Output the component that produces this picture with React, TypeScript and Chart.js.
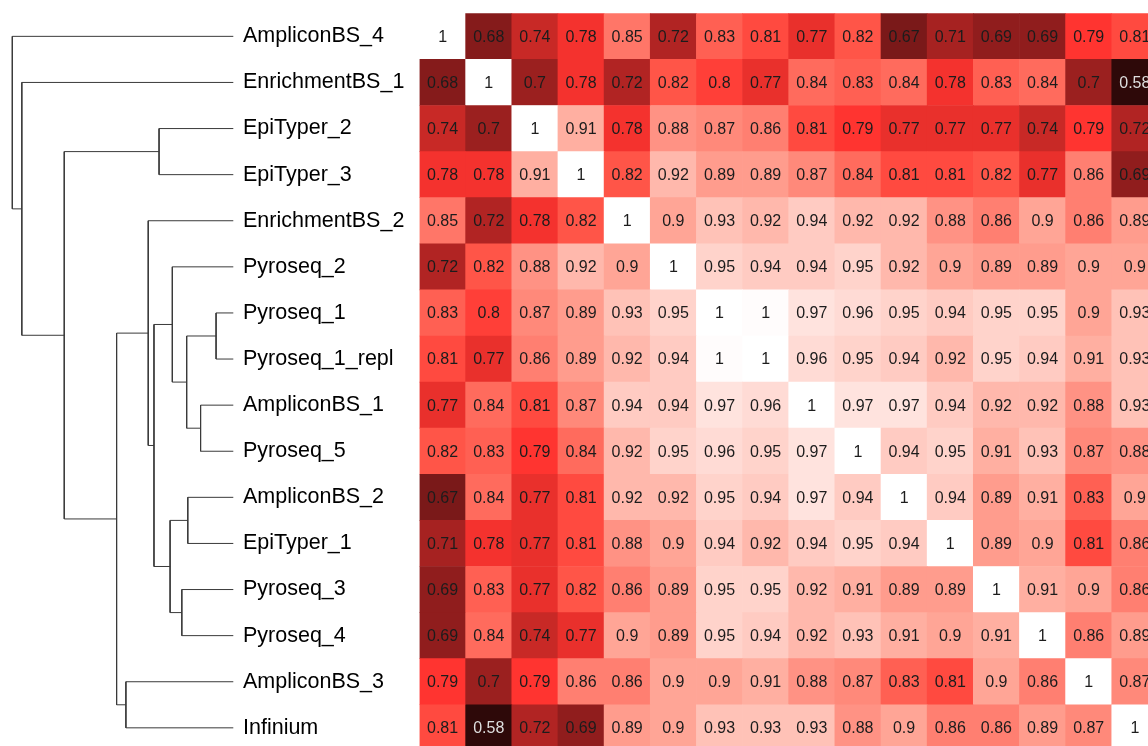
import React, { useEffect, useRef } from "react";
import { Chart, registerables } from "chart.js";

Chart.register(...registerables);

// Row / column order (same for both axes)
const rowLabels = [
  "AmpliconBS_4",
  "EnrichmentBS_1",
  "EpiTyper_2",
  "EpiTyper_3",
  "EnrichmentBS_2",
  "Pyroseq_2",
  "Pyroseq_1",
  "Pyroseq_1_repl",
  "AmpliconBS_1",
  "Pyroseq_5",
  "AmpliconBS_2",
  "EpiTyper_1",
  "Pyroseq_3",
  "Pyroseq_4",
  "AmpliconBS_3",
  "Infinium",
];

// Correlation matrix, one array per row
const rowAmpliconBS_4 = [1, 0.68, 0.74, 0.78, 0.85, 0.72, 0.83, 0.81, 0.77, 0.82, 0.67, 0.71, 0.69, 0.69, 0.79, 0.81];
const rowEnrichmentBS_1 = [0.68, 1, 0.7, 0.78, 0.72, 0.82, 0.8, 0.77, 0.84, 0.83, 0.84, 0.78, 0.83, 0.84, 0.7, 0.58];
const rowEpiTyper_2 = [0.74, 0.7, 1, 0.91, 0.78, 0.88, 0.87, 0.86, 0.81, 0.79, 0.77, 0.77, 0.77, 0.74, 0.79, 0.72];
const rowEpiTyper_3 = [0.78, 0.78, 0.91, 1, 0.82, 0.92, 0.89, 0.89, 0.87, 0.84, 0.81, 0.81, 0.82, 0.77, 0.86, 0.69];
const rowEnrichmentBS_2 = [0.85, 0.72, 0.78, 0.82, 1, 0.9, 0.93, 0.92, 0.94, 0.92, 0.92, 0.88, 0.86, 0.9, 0.86, 0.89];
const rowPyroseq_2 = [0.72, 0.82, 0.88, 0.92, 0.9, 1, 0.95, 0.94, 0.94, 0.95, 0.92, 0.9, 0.89, 0.89, 0.9, 0.9];
const rowPyroseq_1 = [0.83, 0.8, 0.87, 0.89, 0.93, 0.95, 1, 0.997, 0.97, 0.96, 0.95, 0.94, 0.95, 0.95, 0.9, 0.93];
const rowPyroseq_1_repl = [0.81, 0.77, 0.86, 0.89, 0.92, 0.94, 0.997, 1, 0.96, 0.95, 0.94, 0.92, 0.95, 0.94, 0.91, 0.93];
const rowAmpliconBS_1 = [0.77, 0.84, 0.81, 0.87, 0.94, 0.94, 0.97, 0.96, 1, 0.97, 0.97, 0.94, 0.92, 0.92, 0.88, 0.93];
const rowPyroseq_5 = [0.82, 0.83, 0.79, 0.84, 0.92, 0.95, 0.96, 0.95, 0.97, 1, 0.94, 0.95, 0.91, 0.93, 0.87, 0.88];
const rowAmpliconBS_2 = [0.67, 0.84, 0.77, 0.81, 0.92, 0.92, 0.95, 0.94, 0.97, 0.94, 1, 0.94, 0.89, 0.91, 0.83, 0.9];
const rowEpiTyper_1 = [0.71, 0.78, 0.77, 0.81, 0.88, 0.9, 0.94, 0.92, 0.94, 0.95, 0.94, 1, 0.89, 0.9, 0.81, 0.86];
const rowPyroseq_3 = [0.69, 0.83, 0.77, 0.82, 0.86, 0.89, 0.95, 0.95, 0.92, 0.91, 0.89, 0.89, 1, 0.91, 0.9, 0.86];
const rowPyroseq_4 = [0.69, 0.84, 0.74, 0.77, 0.9, 0.89, 0.95, 0.94, 0.92, 0.93, 0.91, 0.9, 0.91, 1, 0.86, 0.89];
const rowAmpliconBS_3 = [0.79, 0.7, 0.79, 0.86, 0.86, 0.9, 0.9, 0.91, 0.88, 0.87, 0.83, 0.81, 0.9, 0.86, 1, 0.87];
const rowInfinium = [0.81, 0.58, 0.72, 0.69, 0.89, 0.9, 0.93, 0.93, 0.93, 0.88, 0.9, 0.86, 0.86, 0.89, 0.87, 1];

const corrRows = [
  rowAmpliconBS_4, rowEnrichmentBS_1, rowEpiTyper_2, rowEpiTyper_3,
  rowEnrichmentBS_2, rowPyroseq_2, rowPyroseq_1, rowPyroseq_1_repl,
  rowAmpliconBS_1, rowPyroseq_5, rowAmpliconBS_2, rowEpiTyper_1,
  rowPyroseq_3, rowPyroseq_4, rowAmpliconBS_3, rowInfinium,
];

// Dendrogram, hclust style: negative = leaf (1-based row), positive = earlier merge (1-based)
const mergeLeft = [-7, -9, -11, 1, -13, -6, 3, -3, 6, -5, -15, 10, 8, -2, -1];
const mergeRight = [-8, -10, -12, 2, -14, 4, 5, -4, 7, 9, -16, 11, 12, 13, 14];
const mergeHeight = [0.078, 0.148, 0.206, 0.211, 0.233, 0.276, 0.286, 0.336, 0.359, 0.385, 0.486, 0.528, 0.765, 0.957, 1.0];

// Colour scale stops: value, r, g, b
const colorStops = [
  [0.58, 46, 9, 9],
  [0.67, 122, 25, 25],
  [0.79, 255, 52, 48],
  [0.82, 255, 85, 72],
  [0.85, 255, 118, 104],
  [0.9, 255, 165, 150],
  [0.94, 255, 203, 194],
  [0.97, 255, 227, 222],
  [1.0, 255, 255, 255],
];

function colorFor(v: number): string {
  if (v <= colorStops[0][0]) {
    const s = colorStops[0];
    return `rgb(${s[1]},${s[2]},${s[3]})`;
  }
  for (let k = 1; k < colorStops.length; k++) {
    const a = colorStops[k - 1];
    const b = colorStops[k];
    if (v <= b[0]) {
      const t = (v - a[0]) / (b[0] - a[0]);
      const c = [1, 2, 3].map((n) => Math.round(a[n] + (b[n] - a[n]) * t));
      return `rgb(${c[0]},${c[1]},${c[2]})`;
    }
  }
  return "rgb(255,255,255)";
}

function fmt(v: number): string {
  return String(Math.round(v * 100) / 100);
}

function buildCells() {
  const cells: any[] = [];
  corrRows.forEach((row, i) => {
    row.forEach((v, j) => {
      cells.push({ x: [j, j + 1], y: i, v });
    });
  });
  return cells;
}

function buildDendro() {
  const nodeY: number[] = [];
  const nodeH: number[] = [];
  const pos = (id: number) =>
    id < 0 ? { y: -id - 1, h: 0 } : { y: nodeY[id - 1], h: nodeH[id - 1] };
  const segments: any[] = [];
  for (let m = 0; m < mergeLeft.length; m++) {
    const a = pos(mergeLeft[m]);
    const b = pos(mergeRight[m]);
    const h = mergeHeight[m];
    nodeY.push((a.y + b.y) / 2);
    nodeH.push(h);
    segments.push([
      { x: a.h, y: a.y },
      { x: h, y: a.y },
      { x: h, y: b.y },
      { x: b.h, y: b.y },
    ]);
  }
  return segments;
}

const FONT = '"Liberation Sans", Arial, Helvetica, sans-serif';

const cellTextPlugin = {
  id: "cellText",
  afterDatasetsDraw(chart: any) {
    const meta = chart.getDatasetMeta(0);
    const data = chart.data.datasets[0].data;
    const ctx = chart.ctx;
    ctx.save();
    ctx.font = `16px ${FONT}`;
    ctx.textAlign = "center";
    ctx.textBaseline = "middle";
    meta.data.forEach((el: any, k: number) => {
      const raw = data[k];
      const { x, y, base } = el.getProps(["x", "y", "base"], true);
      ctx.fillStyle = raw.v < 0.62 ? "#dedede" : "#1c1c1c";
      ctx.fillText(fmt(raw.v), (x + base) / 2, y + 1);
    });
    ctx.restore();
  },
};

export default function App() {
  const canvasRef = useRef<HTMLCanvasElement | null>(null);

  useEffect(() => {
    const canvas = canvasRef.current;
    if (!canvas) return;
    const cells = buildCells();
    const segments = buildDendro();

    const chart = new Chart(canvas, {
      type: "bar",
      data: {
        datasets: [
          {
            type: "bar",
            indexAxis: "y",
            data: cells,
            xAxisID: "x",
            yAxisID: "y",
            backgroundColor: (c: any) => colorFor(c.raw ? c.raw.v : 1),
            borderWidth: 0,
            barPercentage: 1,
            categoryPercentage: 1,
            grouped: false,
          } as any,
          ...segments.map((pts: any) => ({
            type: "line",
            data: pts,
            xAxisID: "xd",
            yAxisID: "y",
            borderColor: "#3a3a3a",
            borderWidth: 1,
            pointRadius: 0,
            fill: false,
            tension: 0,
            clip: false,
          })),
        ],
      },
      options: {
        animation: false,
        responsive: false,
        events: [],
        layout: { autoPadding: false, padding: { left: 243, top: 13.3, right: 0, bottom: 0 } },
        plugins: {
          legend: { display: false },
          tooltip: { enabled: false },
        },
        scales: {
          x: { type: "linear", axis: "x", min: 0, max: 15.785, offset: false, display: false },
          xd: {
            type: "linear",
            axis: "x",
            min: -4.1389,
            max: -0.8425,
            reverse: true,
            offset: false,
            display: false,
          },
          y: {
            type: "linear",
            axis: "y",
            position: "left",
            min: -0.5,
            max: 15.394,
            reverse: true,
            offset: false,
            grid: { display: false },
            border: { display: false },
            afterBuildTicks: (scale: any) => {
              scale.ticks = rowLabels.map((_, i) => ({ value: i }));
            },
            afterFit: (scale: any) => {
              scale.width = 176.5;
              scale.paddingTop = 0;
              scale.paddingBottom = 0;
              scale.paddingLeft = 0;
              scale.paddingRight = 0;
            },
            ticks: {
              autoSkip: false,
              crossAlign: "far",
              padding: 0,
              color: "#000",
              font: { family: FONT, size: 21.5 },
              callback: (value: any) => rowLabels[Math.round(Number(value))],
            },
          },
        },
      } as any,
      plugins: [cellTextPlugin],
    } as any);

    return () => chart.destroy();
  }, []);

  return (
    <div style={{ position: "fixed", left: 0, top: 0, width: 1148, height: 746, background: "#fff" }}>
      <canvas ref={canvasRef} width={1148} height={746} style={{ display: "block" }} />
    </div>
  );
}
